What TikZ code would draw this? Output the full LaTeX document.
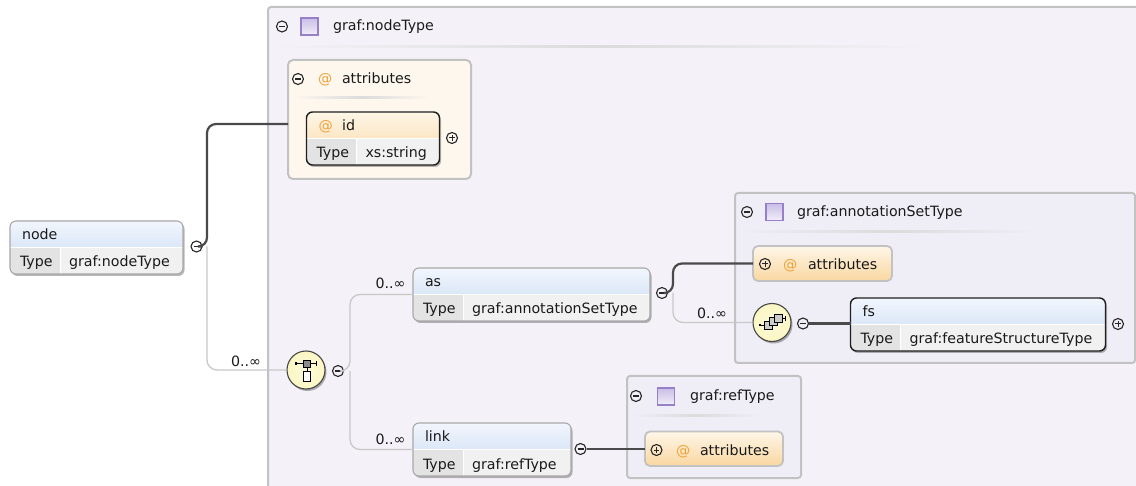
\documentclass[tikz,border=0pt]{standalone}
\usepackage{fontspec}
\setmainfont{DejaVu Sans}
\usetikzlibrary{shadows,calc}

\definecolor{panelbg}{HTML}{F4F2F8}
\definecolor{subbg}{HTML}{EFEDF6}
\definecolor{panelrule}{HTML}{C2C2C2}
\definecolor{attrbg}{HTML}{FDF7EE}
\definecolor{hdrtop}{HTML}{F2F6FD}
\definecolor{hdrbot}{HTML}{C4D7F2}
\definecolor{orgtop}{HTML}{FEF6E8}
\definecolor{orgbot}{HTML}{F9D7A0}
\definecolor{typecell}{HTML}{E3E3E3}
\definecolor{valcell}{HTML}{F1F1F1}
\definecolor{boxline}{HTML}{A8A8A8}
\definecolor{thickc}{HTML}{4A4A4A}
\definecolor{thinc}{HTML}{C8C8C8}
\definecolor{atsign}{HTML}{F0A23A}
\definecolor{txt}{HTML}{1A1A1A}
\definecolor{compfill}{HTML}{FBF6C2}
\definecolor{purpleline}{HTML}{9680C8}
\definecolor{purplefill}{HTML}{C9BDE6}

% fills of an element box: header band, "Type" cell, value cell
\newcommand\elfill[2]{%
  \shade[sharp corners, top color=#1, bottom color=#2]
    (path picture bounding box.north west) rectangle (path picture bounding box.east);
  \fill[sharp corners, typecell]
    (path picture bounding box.west) rectangle ([xshift=50pt]path picture bounding box.south west);
  \fill[sharp corners, valcell]
    ([xshift=50pt]path picture bounding box.west) rectangle (path picture bounding box.south east);
  \draw[sharp corners, white, line width=1pt]
    ([xshift=50pt]path picture bounding box.west) -- ([xshift=50pt]path picture bounding box.south west);
  \draw[sharp corners, white, line width=0.8pt]
    (path picture bounding box.west) -- (path picture bounding box.east);
}

% element box with a header line and a "Type" row
\newcommand\elbox[7]{%
  \node[#2, minimum width=#5pt] (#1) at (#3,#4) {};
  \node[lbl] (#1-title) at ($(#1.north west)+(12,19)$) {#6};
  \node[lbl] (#1-key) at ($(#1.south west)+(10,-7)$) {Type};
  \node[lbl] (#1-val) at ($(#1.south west)+(59,-7)$) {#7};
}

\tikzset{
  lbl/.style={anchor=base west, inner sep=0pt, outer sep=0pt},
  panel/.style={rectangle, anchor=north west, draw=panelrule, line width=2pt,
    inner sep=0pt, outer sep=0pt, rounded corners=3pt},
  elbase/.style={rectangle, rounded corners=6pt, inner sep=0pt, outer sep=0pt,
    anchor=north west, minimum height=53pt,
    drop shadow={shadow xshift=1.5pt, shadow yshift=-2pt, opacity=0.28, fill=black}},
  elem/.style={elbase, draw=boxline, line width=1.1pt,
    path picture={\elfill{hdrtop}{hdrbot}}},
  elemreq/.style={elbase, draw=black!88, line width=1.4pt,
    path picture={\elfill{hdrtop}{hdrbot}}},
  elemattr/.style={elbase, draw=black!88, line width=1.4pt,
    path picture={\elfill{orgtop}{orgbot}}},
  attrc/.style={rectangle, anchor=north west, rounded corners=5pt, draw=panelrule,
    line width=1.8pt, top color=orgtop, bottom color=orgbot, inner sep=0pt, outer sep=0pt},
  cminus/.style={circle, draw=black!85, line width=1.1pt, minimum size=11pt, inner sep=0pt,
    path picture={\draw[line width=1.1pt] ([xshift=-3pt]path picture bounding box.center)
      -- ([xshift=3pt]path picture bounding box.center);}},
  cplus/.style={circle, draw=black!85, line width=1.1pt, minimum size=11pt, inner sep=0pt,
    path picture={\draw[line width=1pt] ([xshift=-2.6pt]path picture bounding box.center)
      -- ([xshift=2.6pt]path picture bounding box.center)
      ([yshift=-2.6pt]path picture bounding box.center)
      -- ([yshift=2.6pt]path picture bounding box.center);}},
  typeicon/.style={rectangle, minimum size=17pt, inner sep=0pt, draw=purpleline,
    line width=1.4pt, top color=purplefill, bottom color=purplefill!25},
  comp/.style={circle, minimum size=38pt, inner sep=0pt, draw=black!72, line width=1.1pt,
    inner color=compfill!60, outer color=compfill,
    drop shadow={shadow xshift=1.5pt, shadow yshift=-2pt, opacity=0.3, fill=black}},
  rulefade/.style={left color=#1, right color=#1, middle color=black!14},
  thickline/.style={draw=thickc, line width=2.2pt, rounded corners=9pt},
  thinline/.style={draw=thinc, line width=1.3pt, rounded corners=10pt},
  occurs/.style={anchor=base east, inner sep=0pt, outer sep=0pt},
}

\begin{document}
\begin{tikzpicture}[x=1pt, y=-1pt,
  every node/.append style={font=\fontsize{14.2}{16}\selectfont, text=txt}]
\useasboundingbox (0,0) rectangle (1136,486);
\fill[white] (0,0) rectangle (1136,486);

% complex type graf:nodeType
\node[panel, fill=panelbg, minimum width=900pt, minimum height=500pt] (nodetype) at (268,7) {};
\node[cminus] (nodetype-m) at (282,26.5) {};
\node[typeicon] (nodetype-i) at (309.5,26.5) {};
\node[lbl] (nodetype-l) at (333,31) {graf:nodeType};
\shade[rulefade=panelbg] (271,45.5) rectangle (930,47.5);

% attribute group of graf:nodeType
\node[panel, fill=attrbg, rounded corners=5pt, minimum width=183pt, minimum height=119pt] (attrs) at (288,60) {};
\node[cminus] (attrs-m) at (298,79) {};
\node[lbl, text=atsign] (attrs-at) at (318,84) {@};
\node[lbl] (attrs-l) at (342,84) {attributes};
\shade[rulefade=attrbg] (293,96.8) rectangle (430,98.6);

\elbox{id}{elemattr}{306.5}{112}{133}{\textcolor{atsign}{@}\hspace{9.5pt}id}{xs:string}
\node[cplus] (id-p) at (452,138) {};

% root element
\elbox{node}{elem}{10}{221}{173}{node}{graf:nodeType}
\node[cminus] (node-m) at (196.5,246.5) {};

% choice compositor
\node[comp] (choice) at (306,370) {};
\begin{scope}[shift={(choice.center)}, line width=1pt]
  \draw (-10,-6.3) -- (10,-6.3);
  \draw (10,-8.8) -- (10,-3.8);
  \fill[black] (-11.5,-7.6) rectangle (-9,-5);
  \draw (1,-2.3) -- (1,1.3);
  \draw[fill=black!45, line width=0.8pt] (-3,-10) rectangle (4.7,-2.3);
  \draw[fill=white, line width=1pt] (-3,1.3) rectangle (4.7,11.3);
\end{scope}
\node[cminus] (choice-m) at (338,371) {};

% children of the choice
\elbox{as}{elem}{413}{268}{237}{as}{graf:annotationSetType}
\node[cminus] (as-m) at (662,293) {};
\elbox{link}{elem}{413}{423}{158}{link}{graf:refType}
\node[cminus] (link-m) at (580.5,449) {};

% complex type graf:annotationSetType
\node[panel, fill=subbg, minimum width=400pt, minimum height=170pt] (asettype) at (735,193) {};
\node[cminus] (asettype-m) at (747,212) {};
\node[typeicon] (asettype-i) at (774.5,212) {};
\node[lbl] (asettype-l) at (797,216.5) {graf:annotationSetType};
\shade[rulefade=subbg] (740,231) rectangle (1038,233);

\node[attrc, minimum width=139pt, minimum height=35pt] (asattr) at (753,246) {};
\node[cplus] (asattr-p) at (765,264) {};
\node[lbl, text=atsign] (asattr-at) at (783,269.5) {@};
\node[lbl] (asattr-l) at (808,269.5) {attributes};

% sequence compositor
\node[comp] (seq) at (772,322.5) {};
\begin{scope}[shift={(seq.center)}, line width=0.9pt]
  \draw (-12,2.5) -- (-7,2.5);
  \fill[black] (-13.5,1.3) rectangle (-11,3.7);
  \draw (10,-4) -- (13.5,-4);
  \draw (13.5,-6.5) -- (13.5,-1.5);
  \draw[fill=black!20] (-7.5,-1.5) rectangle (0.5,6.5);
  \draw[fill=black!20] (-3,-5) rectangle (5,3);
  \draw[fill=black!20] (2,-8.5) rectangle (10,-0.5);
\end{scope}
\node[cminus] (seq-m) at (803,323.5) {};

\elbox{fs}{elemreq}{850.5}{298}{255}{fs}{graf:featureStructureType}
\node[cplus] (fs-p) at (1118,324) {};

% complex type graf:refType
\node[panel, fill=subbg, minimum width=174pt, minimum height=102pt] (reftype) at (627,376) {};
\node[cminus] (reftype-m) at (636,396) {};
\node[typeicon] (reftype-i) at (666,396.5) {};
\node[lbl] (reftype-l) at (690,401) {graf:refType};
\shade[rulefade=subbg] (632,415) rectangle (760,417);

\node[attrc, minimum width=138pt, minimum height=34.5pt] (refattr) at (645,431.5) {};
\node[cplus] (refattr-p) at (656.5,450) {};
\node[lbl, text=atsign] (refattr-at) at (676,455.5) {@};
\node[lbl] (refattr-l) at (700,455.5) {attributes};

% connectors
\coordinate (node-j) at (207,246.5);
\coordinate (choice-j) at (350,371);
\coordinate (as-j) at (673,293);

\draw[thickline] (node-m.east) -- (node-j) |- ([yshift=-4.5pt]attrs.west);
\draw[thinline] (node-j) |- (choice.west);
\node[occurs] (occ-choice) at (261,366.5) {0..∞};

\draw[thinline] (choice-m.east) -- (choice-j) |- (as.west);
\draw[thinline] (choice-j) |- (link.west);
\node[occurs] (occ-as) at (405.5,289) {0..∞};
\node[occurs] (occ-link) at (405.5,444.5) {0..∞};

\draw[thickline] (as-m.east) -- (as-j) |- (asattr.west);
\draw[thinline] (as-j) |- (seq.west);
\node[occurs] (occ-seq) at (727,319) {0..∞};

\draw[thickline] (seq-m.east) -- (seq-m.east -| fs.west);
\draw[thickline] (link-m.east) -- (link-m.east -| refattr.west);
\end{tikzpicture}
\end{document}
